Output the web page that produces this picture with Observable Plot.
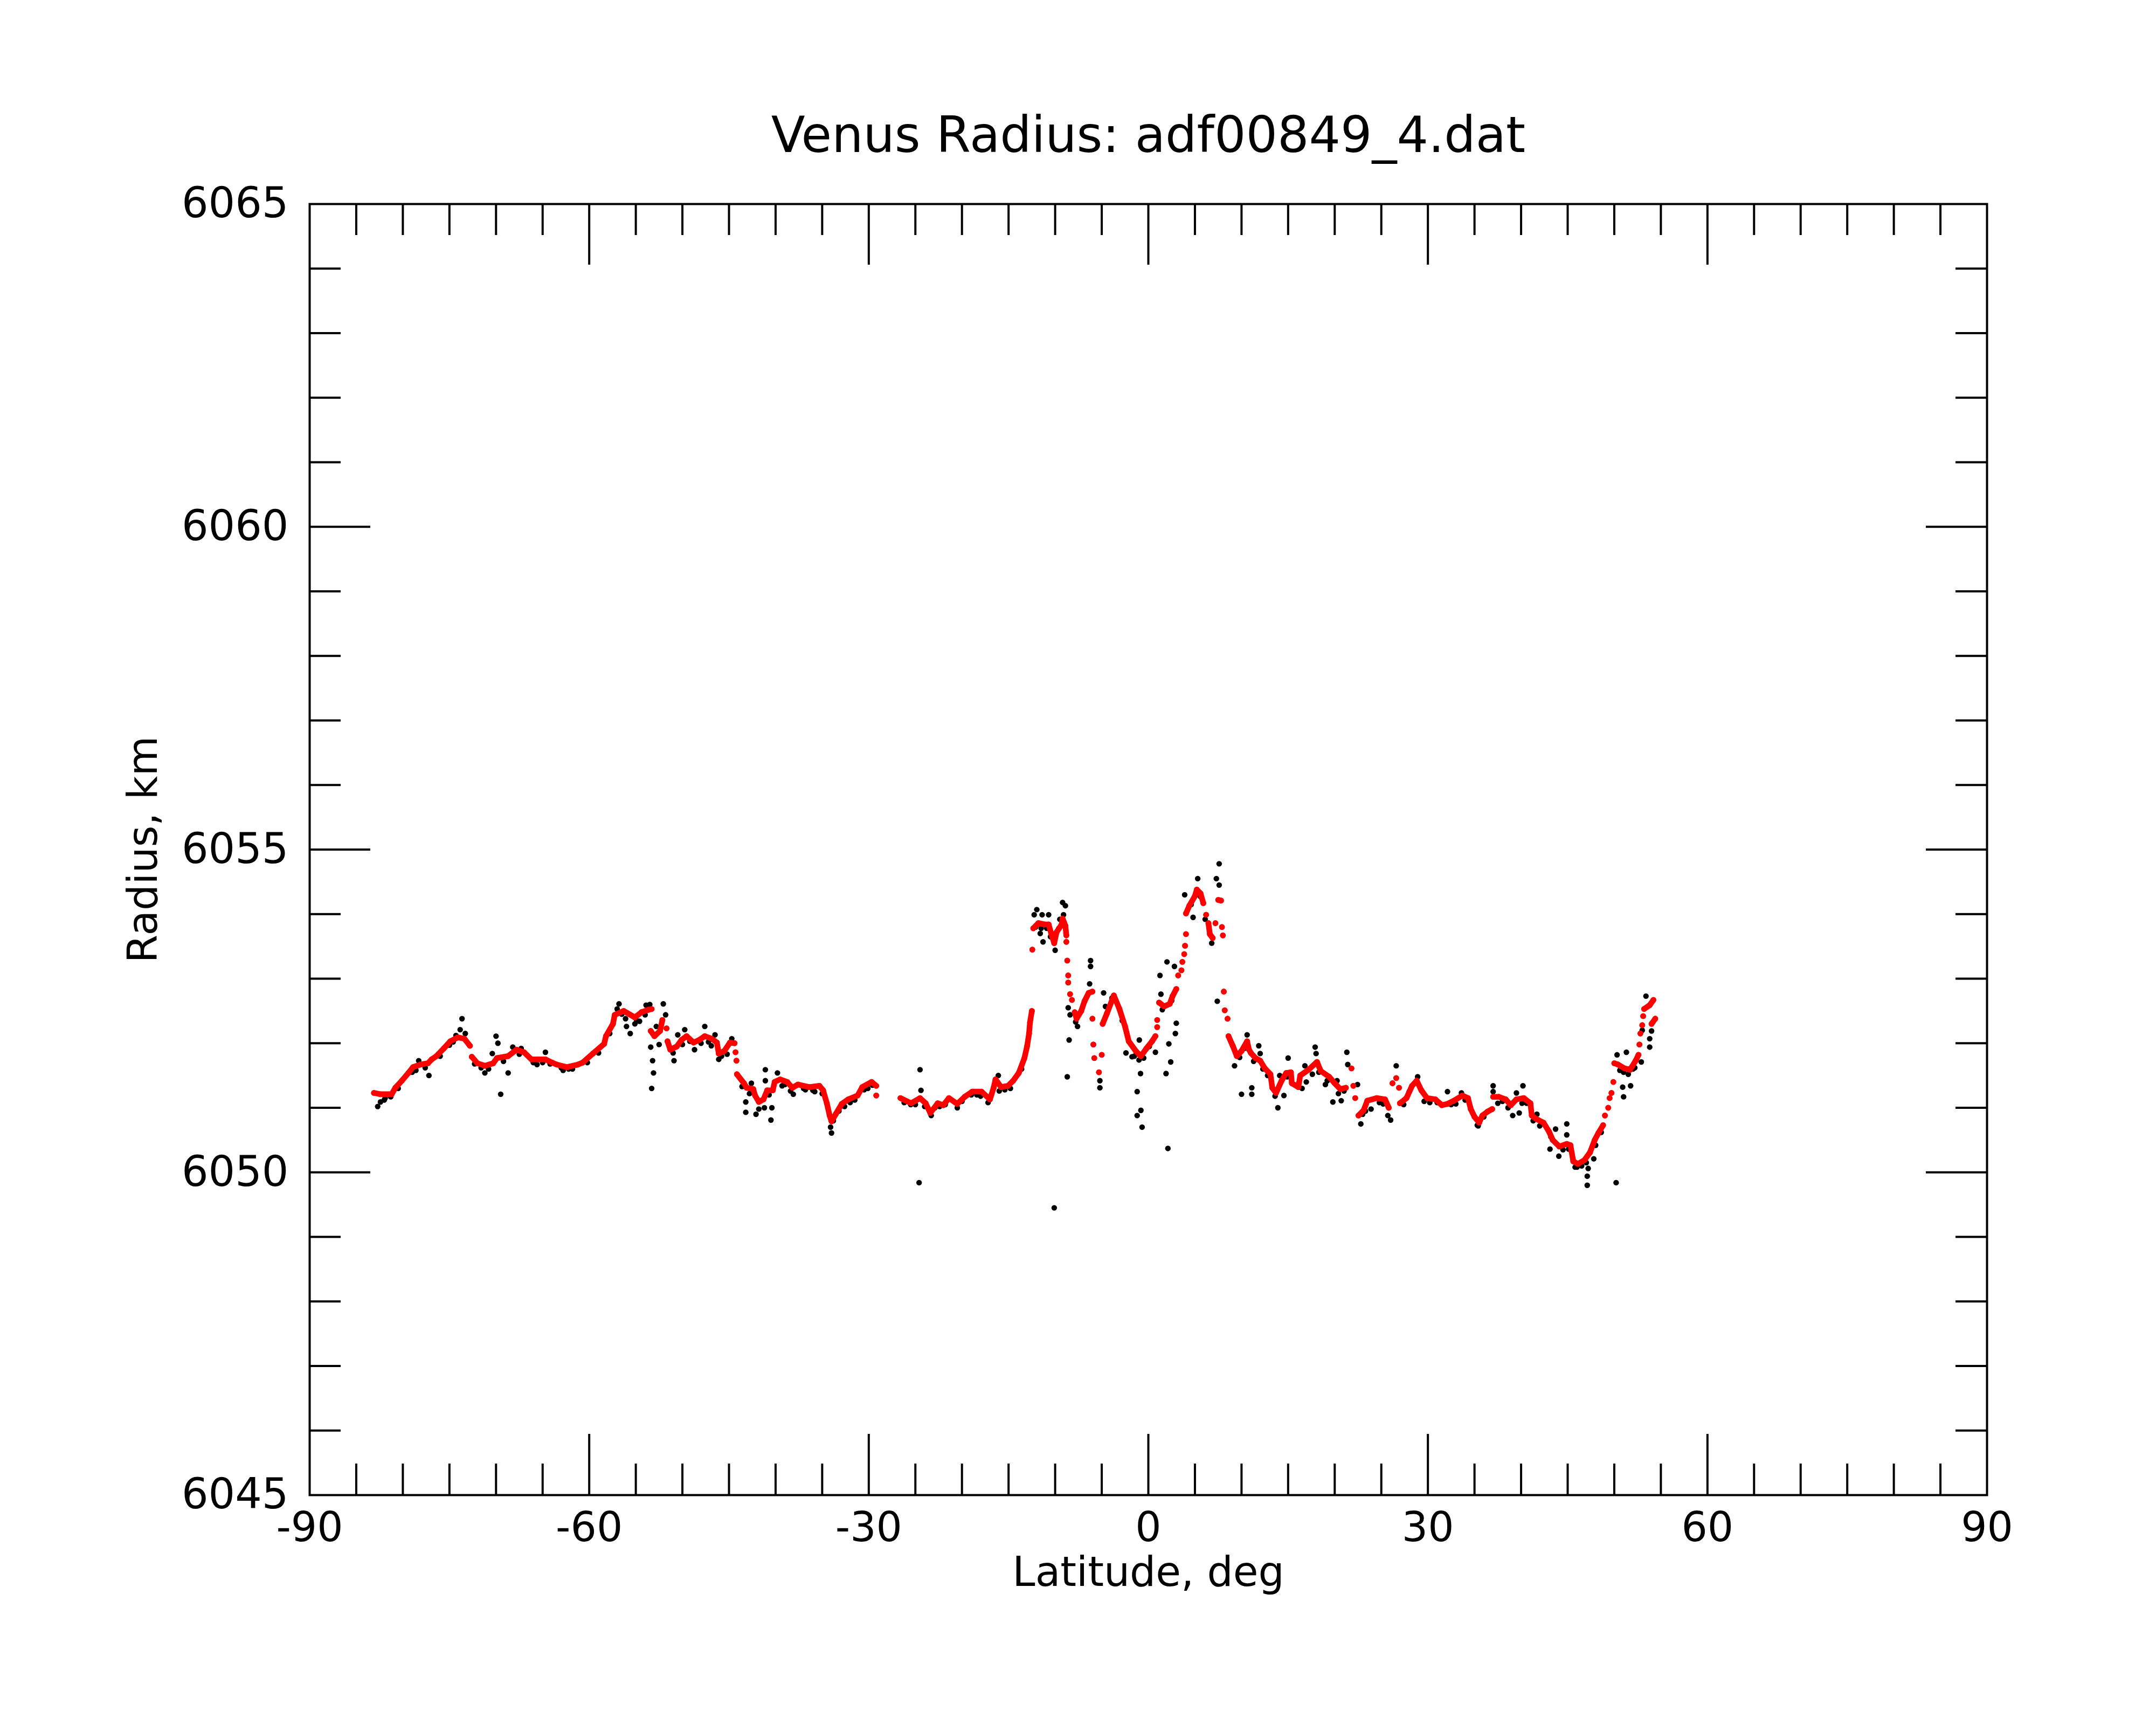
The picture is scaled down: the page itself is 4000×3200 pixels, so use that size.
<!DOCTYPE html>
<html>
<head>
<meta charset="utf-8">
<script src="https://cdn.jsdelivr.net/npm/d3@7"></script>
<script src="https://cdn.jsdelivr.net/npm/@observablehq/plot@0.6"></script>
<style>body{margin:0;background:#fff}</style>
</head>
<body>
<div id="chart"></div>
<script>
const titleText = "Venus Radius: adf00849_4.dat";
const xLabelText = "Latitude, deg";
const yLabelText = "Radius, km";
const xTickLabels = [-90, -60, -30, 0, 30, 60, 90];
const yTickLabels = [6045, 6050, 6055, 6060, 6065];
const xMajorTicks = [-60, -30, 0, 30, 60];
const xMinorTicks = [-85,-80,-75,-70,-65,-55,-50,-45,-40,-35,-25,-20,-15,-10,-5,5,10,15,20,25,35,40,45,50,55,65,70,75,80,85];
const yMajorTicks = [6050, 6055, 6060];
const yMinorTicks = [6046,6047,6048,6049,6051,6052,6053,6054,6056,6057,6058,6059,6061,6062,6063,6064];

// smoothed radius (red), null = break in the trace
const redPoints = [
[-83.1,6051.23],[-82.4,6051.21],[-81.2,6051.21],[-80.8,6051.31],[-80.1,6051.42],[-79.4,6051.54],[-78.9,6051.63],[-78.1,6051.67],[-77.3,6051.69],[-76.9,6051.75],[-76.4,6051.80],[-75.6,6051.92],[-74.9,6052.03],[-74.1,6052.09],[-73.4,6052.07],[-72.8,6051.96],null,
[-72.6,6051.79],[-72.0,6051.69],[-71.2,6051.65],[-70.3,6051.69],[-69.9,6051.77],[-68.7,6051.80],[-67.8,6051.90],[-67.0,6051.86],[-66.2,6051.75],[-65.5,6051.75],[-64.7,6051.75],[-64.0,6051.70],[-63.5,6051.67],[-62.4,6051.63],[-61.2,6051.67],[-60.7,6051.70],[-59.6,6051.84],[-58.4,6051.99],[-58.2,6052.11],[-57.45,6052.30],[-57.26,6052.44],[-56.3,6052.50],[-55.1,6052.40],[-54.4,6052.48],[-53.6,6052.52],[-53.3,6052.53],null,
[-53.4,6052.19],[-53.0,6052.11],[-52.4,6052.19],[-52.15,6052.36],null,
[-51.7,6052.23],null,[-51.6,6052.03],[-51.3,6051.90],[-50.6,6051.95],[-50.1,6052.05],[-49.55,6052.11],[-48.8,6052.01],[-48.2,6052.05],[-47.6,6052.11],[-46.85,6052.07],[-46.3,6052.01],[-46.1,6051.84],[-45.5,6051.88],[-44.9,6052.01],[-44.4,6052.0],null,
[-44.3,6051.86],null,[-44.2,6051.73],null,[-44.15,6051.52],[-43.4,6051.38],[-43.1,6051.31],[-42.4,6051.29],[-42.2,6051.19],[-41.8,6051.09],[-41.3,6051.13],[-40.9,6051.27],[-40.3,6051.27],[-40.1,6051.40],[-39.5,6051.44],[-38.75,6051.40],[-38.2,6051.31],[-37.6,6051.36],[-36.4,6051.32],[-35.3,6051.34],[-34.9,6051.27],[-34.5,6051.07],[-34.2,6050.88],[-34.0,6050.79],[-33.55,6050.90],[-32.9,6051.06],[-32.2,6051.13],[-31.2,6051.19],[-30.7,6051.32],[-29.7,6051.40],[-29.2,6051.34],null,
[-29.2,6051.19],null,
[-26.6,6051.15],[-25.45,6051.07],[-24.5,6051.15],[-23.9,6051.07],[-23.4,6050.92],[-22.6,6051.07],[-22.0,6051.04],[-21.4,6051.15],[-20.5,6051.06],[-19.7,6051.17],[-18.9,6051.25],[-17.9,6051.25],[-17.0,6051.13],[-16.6,6051.31],[-16.4,6051.44],[-15.8,6051.32],[-15.05,6051.34],[-14.5,6051.42],[-13.9,6051.54],[-13.3,6051.77],[-13.0,6051.96],[-12.8,6052.15],[-12.7,6052.32],[-12.5,6052.50],null,
[-12.45,6053.45],null,
[-12.35,6053.78],[-11.8,6053.86],[-11.1,6053.84],[-10.7,6053.84],[-10.4,6053.69],[-10.1,6053.55],[-9.85,6053.72],[-9.3,6053.84],[-9.2,6053.93],[-8.9,6053.82],[-8.8,6053.67],null,
[-8.8,6053.57],null,[-8.7,6053.28],null,[-8.6,6053.05],null,[-8.6,6052.94],null,[-8.4,6052.76],null,[-8.2,6052.67],null,
[-7.9,6052.48],[-7.7,6052.38],[-7.2,6052.50],[-6.85,6052.65],[-6.4,6052.78],[-6.0,6052.80],null,
[-6.0,6052.38],null,[-5.9,6051.98],null,[-5.8,6051.77],null,[-5.3,6051.55],null,[-5.0,6051.82],null,
[-4.9,6052.30],[-4.45,6052.46],[-3.7,6052.74],[-3.1,6052.53],[-2.5,6052.26],[-2.1,6052.03],[-1.35,6051.88],[-0.8,6051.80],[-0.2,6051.92],[0.4,6052.03],[0.76,6052.11],null,
[0.95,6052.25],null,[0.95,6052.36],null,
[1.15,6052.63],[1.7,6052.57],[2.3,6052.61],[2.6,6052.73],[3.0,6052.84],null,
[3.2,6053.05],null,[3.55,6053.13],null,[3.65,6053.26],null,[3.85,6053.38],null,[3.94,6053.51],null,[4.04,6053.69],null,
[4.04,6054.01],[4.4,6054.13],[5.0,6054.28],[5.2,6054.38],[5.6,6054.32],[5.9,6054.17],null,
[6.2,6053.99],null,[6.45,6053.86],[6.6,6053.69],[6.9,6053.63],null,[7.2,6053.86],null,
[7.5,6054.22],[7.8,6054.21],null,[7.9,6053.80],null,[8.0,6053.67],null,
[8.1,6052.80],null,[8.2,6052.51],null,[8.5,6052.38],null,
[8.6,6052.11],[9.06,6051.96],[9.5,6051.80],[10.0,6051.88],[10.6,6052.03],[10.8,6051.90],[11.0,6051.85],[11.5,6051.77],[12.0,6051.73],[12.5,6051.61],[13.1,6051.52],[13.3,6051.31],[13.7,6051.23],[14.3,6051.42],[14.8,6051.54],[15.3,6051.55],[15.4,6051.38],[16.1,6051.32],[16.3,6051.50],[17.2,6051.59],[18.1,6051.71],[18.5,6051.57],[19.4,6051.48],[20.0,6051.38],[20.6,6051.29],[21.2,6051.31],null,
[21.8,6051.61],null,[22.0,6051.34],null,[22.2,6051.15],null,
[22.55,6050.88],[23.1,6050.96],[23.5,6051.11],[24.5,6051.15],[25.4,6051.13],[25.8,6051.0],null,
[26.2,6051.38],null,[26.6,6051.46],null,[26.9,6051.31],null,[27.0,6051.07],
[27.7,6051.15],[28.3,6051.34],[28.8,6051.42],[29.3,6051.27],[29.9,6051.15],[30.8,6051.13],[31.5,6051.04],[32.1,6051.06],[32.8,6051.11],[33.7,6051.19],[34.3,6051.15],[34.6,6050.98],[35.0,6050.86],[35.5,6050.77],[35.85,6050.88],[36.4,6050.94],[36.9,6050.98],null,
[37.0,6051.17],[37.6,6051.17],[38.35,6051.13],[38.9,6051.04],[39.5,6051.13],[40.3,6051.15],[41.0,6051.07],[41.15,6050.88],[41.6,6050.83],[42.4,6050.77],[43.0,6050.63],[43.4,6050.50],[44.1,6050.40],[44.9,6050.44],[45.3,6050.42],[45.6,6050.17],[46.1,6050.13],[46.8,6050.19],[47.4,6050.31],[47.9,6050.50],[48.3,6050.61],[48.8,6050.73],null,
[49.0,6050.88],null,[49.35,6051.0],null,[49.5,6051.15],null,[49.7,6051.23],null,[49.9,6051.40],null,
[50.0,6051.69],[50.4,6051.67],[51.1,6051.61],[51.7,6051.59],[52.3,6051.73],[52.6,6051.82],null,
[52.7,6051.98],null,[52.8,6052.15],null,[53.0,6052.28],null,[53.1,6052.42],null,
[53.2,6052.53],[53.8,6052.59],[54.2,6052.67],null,[54.0,6052.30],[54.4,6052.38]
];

// raw radius measurements (black)
const blackPoints = [
[-82.7,6051.02],[-82.4,6051.09],[-81.9,6051.15],[-81.3,6051.17],[-78.3,6051.73],[-77.2,6051.50],[-77.6,6051.62],[-73.65,6052.38],[-73.85,6052.21],[-73.3,6052.15],[-74.3,6052.12],[-71.2,6051.54],[-71.6,6051.62],[-70.0,6052.11],[-69.8,6052.0],[-70.4,6051.84],[-68.7,6051.54],[-69.5,6051.21],[-68.2,6051.94],[-67.3,6051.92],[-64.7,6051.86],[-65.6,6051.67],[-63.0,6051.62],[-62.2,6051.60],
[-56.8,6052.61],[-57.0,6052.53],[-56.1,6052.38],[-55.6,6052.15],[-56.0,6052.26],[-55.1,6052.30],[-54.6,6052.34],[-53.9,6052.59],[-53.5,6052.60],[-53.4,6051.94],[-53.2,6051.73],[-53.1,6051.54],[-53.3,6051.30],[-52.5,6051.98],[-52.8,6052.26],[-52.05,6052.61],[-51.8,6052.44],[-50.9,6051.73],[-50.5,6052.13],[-49.75,6052.21],[-48.7,6051.90],[-47.6,6052.26],[-46.9,6051.96],[-46.5,6052.13],[-46.1,6051.75],[-44.7,6052.07],[-43.2,6051.09],[-43.2,6050.93],[-42.6,6051.38],[-42.1,6050.90],[-41.8,6050.98],[-41.2,6051.0],[-41.1,6051.59],[-41.1,6051.42],[-40.5,6050.81],[-40.4,6051.0],[-39.8,6051.54],[-39.3,6051.34],[-38.1,6051.21],
[-36.8,6051.28],[-35.8,6051.25],[-34.0,6050.61],[-34.1,6050.70],[-33.2,6050.95],[-32.0,6051.08],[-30.5,6051.28],[-24.5,6051.59],[-24.6,6049.84],[-24.4,6051.27],[-25.5,6051.05],[-22.4,6051.02],[-20.5,6051.0],[-16.1,6051.50],[-19.0,6051.20],
[-11.97,6054.07],[-12.25,6053.99],[-11.4,6053.99],[-10.7,6053.99],[-11.3,6053.57],[-11.6,6053.70],[-10.0,6053.44],[-9.2,6054.18],[-8.9,6054.13],[-9.1,6053.99],[-8.6,6052.55],[-8.4,6052.44],[-8.5,6052.05],[-8.7,6051.48],[-7.6,6052.26],[-6.2,6053.28],[-6.2,6053.19],[-6.3,6052.92],[-4.8,6052.78],[-4.6,6052.57],[-5.2,6051.31],[-5.2,6051.42],[-10.1,6049.45],[-2.4,6051.85],[-1.75,6051.79],[-0.97,6052.05],[-0.84,6051.53],[-1.2,6051.25],[-0.8,6050.96],[-1.2,6050.88],[-0.67,6050.70],[0.76,6051.86],[1.25,6053.05],[1.35,6052.76],[2.0,6053.26],[2.8,6053.19],[3.0,6052.31],[2.9,6052.15],[2.2,6051.99],[2.4,6051.71],[1.9,6051.53],[2.1,6050.37],[3.9,6054.30],[5.3,6054.55],[4.8,6053.95],[6.1,6053.92],[6.8,6053.55],[7.3,6054.55],[7.6,6054.78],[7.6,6054.45],[7.4,6052.65],
[10.6,6052.13],[11.85,6051.96],[9.25,6051.65],[10.0,6051.21],[11.1,6051.31],[11.1,6051.21],[12.0,6051.84],[13.9,6051.0],[14.1,6051.50],[14.55,6051.19],[15.0,6051.77],[16.8,6051.65],[16.95,6051.40],[17.9,6051.94],[18.0,6051.84],[19.8,6051.09],[20.25,6051.42],[20.7,6051.11],[21.3,6051.86],[21.4,6051.67],[22.45,6051.36],[22.8,6050.75],[23.9,6050.98],[26.0,6050.81],[25.7,6050.88],[26.6,6051.65],[28.9,6051.48],[19.0,6051.36],[12.8,6051.50],
[32.1,6051.25],[33.6,6051.23],[37.0,6051.34],[37.0,6051.25],[37.5,6051.07],[39.1,6050.88],[39.5,6051.23],[39.8,6050.92],[40.2,6051.34],[40.1,6051.07],[41.7,6050.90],[43.1,6050.36],[43.7,6050.67],[44.05,6050.25],[44.9,6050.75],[44.9,6050.58],[47.2,6050.06],[47.1,6049.94],[47.1,6049.80],[47.8,6050.21],[50.2,6049.84],[50.3,6051.82],[51.3,6051.86],[50.9,6051.32],[51.0,6051.17],[51.75,6051.34],[53.4,6052.73],[53.8,6052.07],[53.8,6051.94],[54.0,6052.19],[52.9,6051.71],[46.0,6050.08],[35.4,6050.72],
[-80.5,6051.30],[-79.0,6051.55],[-76.0,6051.80],[-75.0,6051.97],[-72.3,6051.68],[-67.5,6051.83],[-66.0,6051.70],[-64.2,6051.68],[-61.8,6051.60],[-59.0,6051.85],[-57.8,6052.15],[-50.0,6051.98],[-48.0,6052.00],[-45.8,6051.80],[-43.6,6051.33],[-39.0,6051.36],[-37.0,6051.30],[-35.0,6051.22],[-33.8,6050.80],[-31.5,6051.12],[-29.6,6051.35],[-26.2,6051.08],[-24.0,6051.02],[-23.3,6050.88],[-21.8,6051.05],[-18.4,6051.20],[-17.2,6051.08],[-15.4,6051.28],[-13.6,6051.60],[-11.5,6053.78],[-10.5,6053.65],[-9.6,6053.78],[-7.8,6052.33],[-3.9,6052.70],[-1.5,6051.80],[-0.5,6051.77],[4.6,6054.15],[5.6,6054.27],[10.3,6051.92],[12.3,6051.60],[13.6,6051.18],[16.5,6051.30],[18.3,6051.55],[20.4,6051.22],[23.3,6050.95],[24.8,6051.08],[27.4,6051.05],[29.6,6051.10],[31.0,6051.08],[33.0,6051.06],[35.3,6050.73],[38.0,6051.10],[40.6,6051.07],[42.0,6050.72],[44.5,6050.35],[45.8,6050.08],[46.5,6050.10],[48.0,6050.42],[50.6,6051.58],[51.5,6051.52],[52.2,6051.62],
[-82.0,6051.12],[-78.6,6051.58],[-74.6,6052.02],[-70.8,6051.60],[-69.2,6051.72],[-65.0,6051.70],[-62.8,6051.58],[-60.2,6051.70],[-56.5,6052.45],[-54.9,6052.35],[-54.0,6052.44],[-51.0,6051.85],[-49.2,6052.03],[-47.2,6052.02],[-45.2,6051.83],[-42.8,6051.22],[-40.7,6051.20],[-38.4,6051.26],[-36.0,6051.27],[-32.6,6051.02],[-30.1,6051.30],[-25.0,6051.05],[-22.9,6051.00],[-20.0,6051.10],[-18.0,6051.18],[-16.0,6051.26],[-14.8,6051.30],[-12.1,6053.80],[-10.9,6053.78],[-9.5,6053.92],[-2.8,6052.35],[-1.0,6051.74],[0.1,6051.95],[1.5,6052.52],[2.5,6052.66],[5.4,6054.32],[9.8,6051.78],[11.3,6051.72],[14.9,6051.48],[17.6,6051.52],[19.2,6051.42],[21.0,6051.26],[23.0,6050.90],[25.2,6051.06],[28.0,6051.25],[30.2,6051.08],[32.5,6051.05],[34.0,6051.12],[36.0,6050.86],[38.6,6051.00],[41.3,6050.80],[43.2,6050.55],[45.1,6050.36],[47.0,6050.15],[48.6,6050.62],[51.0,6051.55],[52.0,6051.60],[53.0,6052.20]
];

const W = 4000, H = 3200;
const mL = 574, mR = 314, mT = 378, mB = 427;
const fw = W - mL - mR, fh = H - mT - mB;
const majorLen = 113, minorLen = 58, lw = 4;
const redDots = redPoints.filter(d => d);

const chart = Plot.plot({
  width: W, height: H,
  marginLeft: mL, marginRight: mR, marginTop: mT, marginBottom: mB,
  style: {fontFamily: "DejaVu Sans", fontSize: "78px", background: "white", color: "black"},
  x: {domain: [-90, 90]},
  y: {domain: [6045, 6065]},
  marks: [
    Plot.dot(blackPoints, {x: d => d[0], y: d => d[1], r: 5.2, fill: "black", stroke: "none"}),
    Plot.line(redPoints, {x: d => d ? d[0] : null, y: d => d ? d[1] : null, stroke: "#ff0000", strokeWidth: 10.5, strokeLinecap: "round", strokeLinejoin: "round"}),
    Plot.dot(redDots, {x: d => d[0], y: d => d[1], r: 5.4, fill: "#ff0000", stroke: "none"}),
    Plot.ruleX(xMajorTicks, {x: d => d, insetBottom: fh - majorLen, stroke: "black", strokeWidth: lw}),
    Plot.ruleX(xMajorTicks, {x: d => d, insetTop: fh - majorLen, stroke: "black", strokeWidth: lw}),
    Plot.ruleX(xMinorTicks, {x: d => d, insetBottom: fh - minorLen, stroke: "black", strokeWidth: lw}),
    Plot.ruleX(xMinorTicks, {x: d => d, insetTop: fh - minorLen, stroke: "black", strokeWidth: lw}),
    Plot.ruleY(yMajorTicks, {y: d => d, insetRight: fw - majorLen, stroke: "black", strokeWidth: lw}),
    Plot.ruleY(yMajorTicks, {y: d => d, insetLeft: fw - majorLen, stroke: "black", strokeWidth: lw}),
    Plot.ruleY(yMinorTicks, {y: d => d, insetRight: fw - minorLen, stroke: "black", strokeWidth: lw}),
    Plot.ruleY(yMinorTicks, {y: d => d, insetLeft: fw - minorLen, stroke: "black", strokeWidth: lw}),
    Plot.frame({stroke: "black", strokeWidth: lw}),
    Plot.axisX({ticks: xTickLabels, tickSize: 0, tickPadding: 32, tickFormat: d => String(d), fontSize: 76, label: null}),
    Plot.axisY({ticks: yTickLabels, tickSize: 0, tickPadding: 39, tickFormat: d => String(d), fontSize: 78, label: null}),
    Plot.text([titleText], {text: d => d, frameAnchor: "top", dy: -126, fontSize: 92, lineAnchor: "middle"}),
    Plot.text([xLabelText], {text: d => d, frameAnchor: "bottom", dy: 144, fontSize: 76, lineAnchor: "middle"}),
    Plot.text([yLabelText], {text: d => d, frameAnchor: "left", dx: -308, rotate: -90, fontSize: 76, lineAnchor: "middle", textAnchor: "middle"})
  ]
});
document.getElementById("chart").appendChild(chart);
</script>
</body>
</html>
